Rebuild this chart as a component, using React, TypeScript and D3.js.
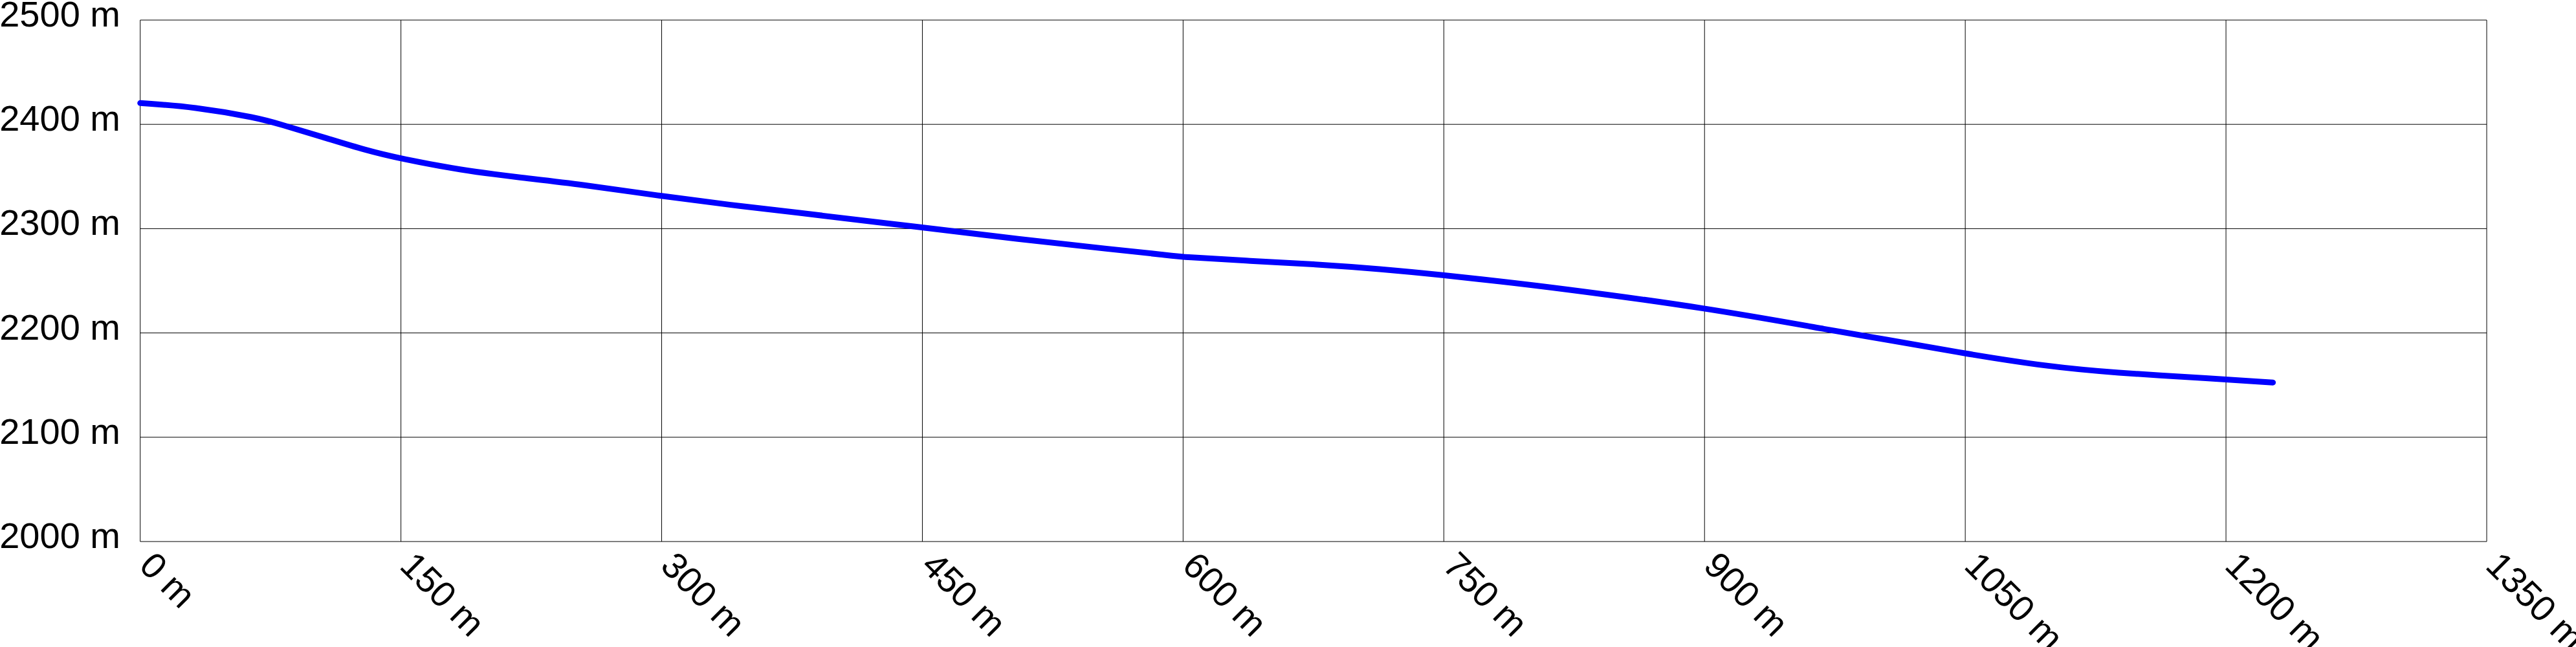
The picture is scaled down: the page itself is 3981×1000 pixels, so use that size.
import * as d3 from "d3";

// elevation profile
const distances = [
  0, 31, 68, 80, 105, 130, 150, 185, 217, 254, 300, 341, 370, 450, 505, 560,
  590, 600, 639, 676, 713, 750, 783, 813, 900, 978, 1000, 1050, 1098, 1135,
  1192, 1227,
];
const elevations = [
  2420.4, 2416.9, 2406.1, 2400.3, 2387.9, 2375, 2367, 2356, 2349.3, 2342.4,
  2331.1, 2322.4, 2317, 2301.1, 2290, 2280, 2274.8, 2272.7, 2269, 2265.9,
  2261.4, 2255.4, 2249.4, 2243.6, 2224.4, 2201, 2195, 2180.1, 2167.7, 2161.9,
  2156.3, 2152.5,
];

const xTicks = [0, 150, 300, 450, 600, 750, 900, 1050, 1200, 1350];
const yTicks = [2000, 2100, 2200, 2300, 2400, 2500];

const W = 3981;
const H = 1000;

export default function App() {
  const x = d3.scaleLinear().domain([0, 1350]).range([216.7, 3843]);
  const y = d3.scaleLinear().domain([2000, 2500]).range([837, 31]);

  const path = d3
    .line<number>()
    .x((d, i) => x(distances[i]))
    .y((d) => y(d))
    .curve(d3.curveBasis)(elevations);

  return (
    <svg
      width={W}
      height={H}
      style={{ position: "absolute", left: 0, top: 0, background: "#fff" }}
      fontFamily="'Liberation Sans', Arial, sans-serif"
    >
      <g stroke="#000" strokeWidth={1}>
        {yTicks.map((t) => (
          <line key={"h" + t} x1={x(0)} x2={x(1350)} y1={y(t)} y2={y(t)} />
        ))}
        {xTicks.map((t) => (
          <line key={"v" + t} x1={x(t)} x2={x(t)} y1={y(2000)} y2={y(2500)} />
        ))}
      </g>
      <path
        d={path ?? ""}
        fill="none"
        stroke="#0000ff"
        strokeWidth={9}
        strokeLinecap="round"
        strokeLinejoin="round"
      />
      {yTicks.map((t) => (
        <text key={"yl" + t} x={186} y={y(t) + 10} fontSize={56} textAnchor="end" fill="#000">
          {t} m
        </text>
      ))}
      {xTicks.map((t) => (
        <text
          key={"xl" + t}
          transform={`translate(${x(t) - 4},877) rotate(45)`}
          fontSize={56}
          fill="#000"
        >
          {t} m
        </text>
      ))}
    </svg>
  );
}
